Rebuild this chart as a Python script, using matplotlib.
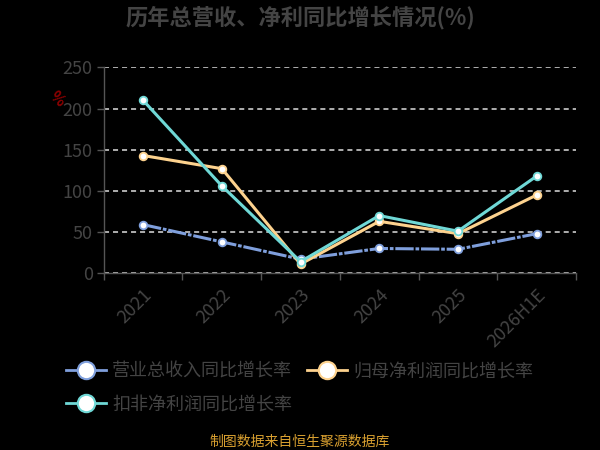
import matplotlib.pyplot as plt
from matplotlib.lines import Line2D

plt.rcParams['font.family'] = ['Noto Sans CJK SC', 'DejaVu Sans']

# データ
years = ['2021', '2022', '2023', '2024', '2025', '2026H1E']
revenue_growth = [59, 38, 17, 30, 29, 48]         # 营业总收入同比增长率
net_profit_growth = [143, 127, 11, 63, 48, 95]    # 归母净利润同比增长率
deducted_growth = [210, 106, 14, 70, 51, 118]     # 扣非净利润同比增长率

labels = ['营业总收入同比增长率', '归母净利润同比增长率', '扣非净利润同比增长率']
colors = ['#7f9fdc', '#fdd28e', '#6fd8d6']

fig = plt.figure(figsize=(6, 4.5), dpi=100, facecolor='black')
ax = fig.add_axes([0.173, 0.393, 0.787, 0.457], facecolor='black')

x = list(range(len(years)))
series = [revenue_growth, net_profit_growth, deducted_growth]
styles = [(0, (6, 0.6, 1.2, 0.6)), '-', '-']
for vals, c, ls, lab in zip(series, colors, styles, labels):
    ax.plot(x, vals, color=c, lw=2.2, linestyle=ls, marker='o', ms=5.5,
            mfc='white', mec=c, mew=1.3, label=lab, zorder=3)

ax.set_xlim(-0.5, len(years) - 0.5)
ax.set_ylim(0, 250)
ax.set_yticks([0, 50, 100, 150, 200, 250])
ax.set_xticks(x)
ax.set_xticklabels(years, rotation=45, ha='right', rotation_mode='anchor')
ax.set_xticks([i - 0.5 for i in range(len(years) + 1)], minor=True)
ax.tick_params(axis='x', which='major', length=0, pad=9, labelsize=13, labelcolor='#444444')
ax.tick_params(axis='x', which='minor', length=5, color='#555555', width=1)
ax.tick_params(axis='y', length=5, color='#555555', width=1, labelsize=13, labelcolor='#444444', pad=3)

ax.grid(axis='y', color='#dddddd', linestyle=(0, (3.3, 2.6)), linewidth=1.1, zorder=1)
for s in ['top', 'right']:
    ax.spines[s].set_visible(False)
for s in ['left', 'bottom']:
    ax.spines[s].set_color('#555555')
    ax.spines[s].set_linewidth(1)

# 単位
fig.text(0.095, 0.78, '%', color='#8b0000', fontsize=11, fontweight='bold',
         rotation=-45, ha='center', va='center')

# タイトル
fig.text(0.5, 0.962, '历年总营收、净利同比增长情况(%)', color='#444444',
         fontsize=16, fontweight='bold', ha='center', va='center')

# 凡例 (行方向に並べるため順序を入れ替え)
handles = [Line2D([0], [0], color=c, lw=2, marker='o', ms=12.5, mfc='white',
                  mec=c, mew=1.5) for c in colors]
order = [0, 2, 1]
fig.legend([handles[i] for i in order], [labels[i] for i in order],
           loc='upper left', bbox_to_anchor=(0.11, 0.194),
           ncol=2, frameon=False, fontsize=13, labelcolor='#444444',
           handlelength=2.2, handletextpad=0.35, columnspacing=0.85,
           labelspacing=0.83, borderpad=0, borderaxespad=0)

fig.text(0.5, 0.017, '制图数据来自恒生聚源数据库', color='#d9a030',
         fontsize=10, ha='center', va='center')

plt.savefig('out.png', dpi=100, facecolor='black')
